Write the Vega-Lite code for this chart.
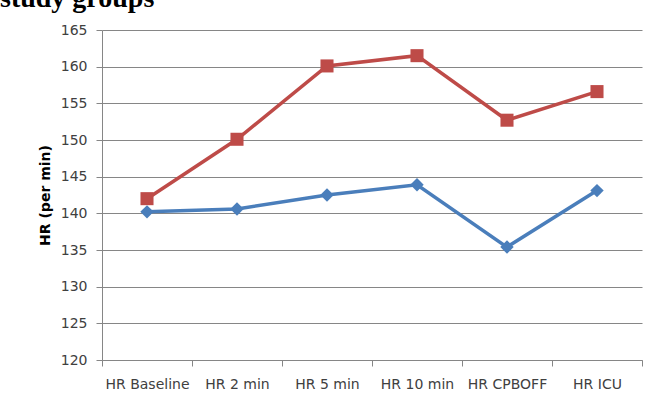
{
  "$schema": "https://vega.github.io/schema/vega-lite/v6.json",
  "autosize": "none",
  "width": 540,
  "height": 330,
  "padding": {"left": 102, "top": 30, "right": 10, "bottom": 42},
  "background": "white",
  "title": {
    "text": "study groups",
    "font": "Liberation Serif",
    "fontSize": 28,
    "fontWeight": "bold",
    "color": "#000000",
    "anchor": "start",
    "frame": "group",
    "baseline": "alphabetic",
    "offset": 5,
    "dx": -102,
    "dy": 17
  },
  "config": {
    "view": {"stroke": null},
    "axis": {
      "labelFont": "DejaVu Sans",
      "labelFontSize": 14,
      "labelColor": "#404040",
      "domainColor": "#868686",
      "tickColor": "#868686",
      "gridColor": "#868686",
      "titleFont": "DejaVu Sans",
      "titleColor": "#000000"
    }
  },
  "data": {
    "values": [
      {"time": "HR Baseline", "group": "Group 1", "hr": 140.2},
      {"time": "HR 2 min", "group": "Group 1", "hr": 140.6},
      {"time": "HR 5 min", "group": "Group 1", "hr": 142.5},
      {"time": "HR 10 min", "group": "Group 1", "hr": 143.9},
      {"time": "HR CPBOFF", "group": "Group 1", "hr": 135.4},
      {"time": "HR ICU", "group": "Group 1", "hr": 143.1},
      {"time": "HR Baseline", "group": "Group 2", "hr": 142.0},
      {"time": "HR 2 min", "group": "Group 2", "hr": 150.1},
      {"time": "HR 5 min", "group": "Group 2", "hr": 160.1},
      {"time": "HR 10 min", "group": "Group 2", "hr": 161.5},
      {"time": "HR CPBOFF", "group": "Group 2", "hr": 152.7},
      {"time": "HR ICU", "group": "Group 2", "hr": 156.6}
    ]
  },
  "encoding": {
    "x": {
      "field": "time",
      "type": "nominal",
      "sort": null,
      "scale": {"type": "band", "paddingInner": 0, "paddingOuter": 0},
      "axis": {
        "title": null,
        "labelAngle": 0,
        "grid": false,
        "tickBand": "extent",
        "tickSize": 6,
        "labelPadding": 11
      }
    },
    "y": {
      "field": "hr",
      "type": "quantitative",
      "scale": {"domain": [120, 165], "nice": false, "zero": false},
      "axis": {
        "title": "HR (per min)",
        "titleFontSize": 14,
        "titleFontWeight": "bold",
        "titlePadding": 8,
        "values": [120, 125, 130, 135, 140, 145, 150, 155, 160, 165],
        "tickSize": 6,
        "labelPadding": 9,
        "grid": true
      }
    },
    "color": {
      "field": "group",
      "type": "nominal",
      "scale": {"domain": ["Group 1", "Group 2"], "range": ["#4A7EBB", "#BE4B48"]},
      "legend": null
    }
  },
  "layer": [
    {
      "mark": {"type": "line", "strokeWidth": 3.5}
    },
    {
      "mark": {"type": "point", "filled": true, "opacity": 1},
      "encoding": {
        "shape": {
          "field": "group",
          "type": "nominal",
          "scale": {"domain": ["Group 1", "Group 2"], "range": ["diamond", "square"]},
          "legend": null
        },
        "size": {
          "field": "group",
          "type": "nominal",
          "scale": {"domain": ["Group 1", "Group 2"], "range": [180, 170]},
          "legend": null
        }
      }
    }
  ]
}
